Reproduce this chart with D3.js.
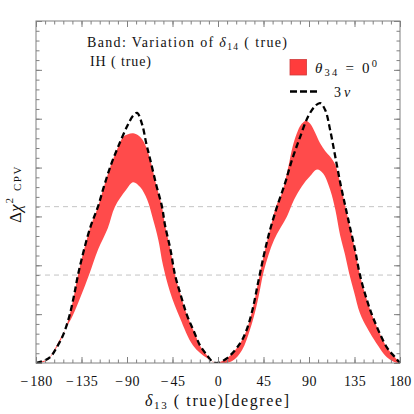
<!DOCTYPE html>
<html lang="en">
<head>
    <meta charset="UTF-8">
    <title>CPV band</title>

    <script src="https://d3js.org/d3.v7.min.js"></script>

    <style>
        body {
            margin: 0;
            background: #fff;
        }

        text {
            font-family: "Liberation Serif", "Times New Roman", "DejaVu Serif", serif;
            fill: #111;
        }
    </style>

    <script>

        // 3nu curve (dashed)
        const NU3_DELTA = [-180, -173, -166, -160, -153, -147, -142.4, -138.5, -132.5, -125.6, -118.7, -112.7, -105.8, -98.9, -90, -84, -80, -75, -71, -67, -61, -55.4, -52.4, -47, -42.5, -37, -30.7, -23.7, -17.8, -10.9, -5, -1, 9, 21.8, 28, 34, 39.6, 45.5, 51.4, 58.4, 66.3, 73.2, 81.1, 89, 96, 101, 106, 111, 116, 121, 126, 130.5, 135.5, 140.4, 147.4, 154.3, 167, 175, 180];
        const NU3_CHI2 = [0, 0.2, 0.6, 1.5, 2.9, 4.8, 6.9, 9.0, 11.6, 14.1, 16.0, 18.1, 20.3, 22.1, 24.2, 25.3, 25.6, 24.4, 22.5, 20.8, 18.2, 16.0, 14.1, 11.6, 9.0, 7.0, 4.9, 3.2, 1.8, 0.8, 0.1, 0, 0.5, 2.0, 3.3, 5.4, 8.2, 11.1, 13.6, 16.0, 18.4, 20.8, 23.1, 25.2, 26.3, 26.6, 25.9, 23.8, 21.1, 18.4, 16.0, 13.9, 11.6, 9.0, 6.4, 4.4, 1.6, 0.6, 0];

        // band, upper edge
        const BAND_HI_DELTA = [-180, -173, -166, -160, -153, -147, -142.4, -138.5, -132.5, -125.6, -118.7, -112.7, -105.8, -100, -94, -89, -84, -79, -75, -71, -67, -61, -55.4, -52.4, -47, -42.5, -37, -30.7, -23.7, -17.8, -10.9, -5, -1, 9, 21.8, 28, 34, 39.6, 45.5, 51.4, 58, 63.3, 69.2, 74.2, 79.1, 83, 87, 91, 96, 101, 106, 111, 116, 119, 121, 126, 130.5, 135.5, 140.4, 147.4, 154.3, 167, 175, 180];
        const BAND_HI_CHI2 = [0, 0.2, 0.6, 1.5, 2.9, 4.8, 6.9, 9.0, 11.6, 14.1, 16.0, 18.1, 20.3, 21.8, 23.1, 23.4, 23.5, 23.3, 22.9, 22.1, 20.8, 18.2, 16.0, 14.1, 11.6, 9.0, 7.0, 4.9, 3.2, 1.8, 0.8, 0.1, 0, 0.5, 2.0, 3.3, 5.4, 8.2, 11.1, 13.6, 16.2, 17.4, 19.9, 22.3, 23.8, 24.5, 24.8, 24.5, 23.6, 22.5, 21.7, 21.1, 20.3, 19.2, 18.4, 16.0, 13.9, 11.6, 9.0, 6.4, 4.4, 1.6, 0.6, 0];

        // band, lower edge
        const BAND_LO_DELTA = [-180, -170, -165, -157, -150, -143.4, -135, -127.6, -118.7, -109, -101.9, -91, -84, -77, -70, -64, -59, -54.4, -47.5, -37.6, -24.7, -10.9, -1, 14, 23.7, 31.6, 37.6, 41.5, 45.5, 55.4, 68.2, 75.2, 83, 91, 98, 104, 111, 116, 120.7, 125.6, 129.6, 134.5, 140.4, 147.4, 154.3, 167, 177, 180];
        const BAND_LO_CHI2 = [0, 0.2, 0.8, 2.3, 3.6, 4.9, 7.0, 9.0, 11.6, 13.8, 16.0, 17.7, 18.5, 18.0, 16.7, 14.6, 12.6, 10.0, 7.3, 4.6, 1.8, 0.5, 0, 0.2, 1.3, 3.4, 5.6, 7.5, 9.5, 12.6, 15.0, 16.7, 18.1, 19.1, 19.8, 19.4, 17.7, 15.7, 13.1, 11.1, 9.2, 7.3, 5.1, 3.6, 2.4, 0.6, 0, 0];

        const X_TICKS = [-180, -135, -90, -45, 0, 45, 90, 135, 180];
        const SIGMA_LINES = [9, 16];

        document.addEventListener("DOMContentLoaded", () => makeGraph());

        function makeGraph() {

            const margins = {top: 21, right: 14, bottom: 51, left: 36};
            const width = 414 - margins.left - margins.right;
            const height = 414 - margins.top - margins.bottom;
            const frameColor = "#808080";
            const red = "#ff4b4b";

            let svg = d3.select("svg")
                .attr("width", 414)
                .attr("height", 414);

            const g = svg.append("g")
                .attr("transform", "translate(" + margins.left + "," + margins.top + ")");

            const x = d3.scaleLinear().domain([-180, 180]).range([0, width]);
            const y = d3.scaleLinear().domain([0, 35]).range([height, 0]);

            svg.append("defs").append("clipPath").attr("id", "plot-clip")
                .append("rect").attr("width", width).attr("height", height);

            // 3 sigma / 4 sigma guide lines
            g.selectAll(".sigma")
                .data(SIGMA_LINES)
                .join("line")
                .attr("x1", 0)
                .attr("x2", width)
                .attr("y1", d => y(d))
                .attr("y2", d => y(d))
                .attr("stroke", "#c4c4c4")
                .attr("stroke-width", 1)
                .attr("stroke-dasharray", "5,4");

            const plot = g.append("g").attr("clip-path", "url(#plot-clip)");

            const hi = BAND_HI_DELTA.map((d, i) => [d, BAND_HI_CHI2[i]]);
            const lo = BAND_LO_DELTA.map((d, i) => [d, BAND_LO_CHI2[i]]);
            const nu3 = NU3_DELTA.map((d, i) => [d, NU3_CHI2[i]]);

            const line = d3.line()
                .x(d => x(d[0]))
                .y(d => y(d[1]))
                .curve(d3.curveCatmullRom.alpha(0.5));

            plot.append("path")
                .attr("d", line(hi) + line(lo.slice().reverse()).replace("M", "L") + "Z")
                .attr("fill", red)
                .attr("stroke", "none");

            plot.append("path")
                .attr("d", line(nu3))
                .attr("fill", "none")
                .attr("stroke", "#000")
                .attr("stroke-width", 2.3)
                .attr("stroke-dasharray", "6,3.5");

            // frame and ticks
            const minorX = d3.range(-180, 181, 9);
            const majorY = d3.range(0, 36, 5);
            const minorY = d3.range(0, 36, 1);

            function styleAxis(sel) {
                sel.select(".domain").remove();
                sel.selectAll("line").attr("stroke", frameColor);
            }

            g.append("g").attr("transform", "translate(0," + height + ")")
                .call(d3.axisBottom(x).tickValues(minorX).tickSize(-3.5).tickFormat(""))
                .call(styleAxis);
            g.append("g").attr("transform", "translate(0," + height + ")")
                .call(d3.axisBottom(x).tickValues(X_TICKS).tickSize(-6).tickPadding(13)
                    .tickFormat(d => d < 0 ? "\u2212\u200a" + Math.abs(d) : d))
                .call(styleAxis)
                .selectAll("text")
                .attr("font-size", 14)
                .attr("letter-spacing", "0.4px")
                .attr("fill", "#111")
                .style("font-family", "'Liberation Serif', serif");

            g.append("g")
                .call(d3.axisTop(x).tickValues(minorX).tickSize(-3.5).tickFormat(""))
                .call(styleAxis);
            g.append("g")
                .call(d3.axisTop(x).tickValues(X_TICKS).tickSize(-6).tickFormat(""))
                .call(styleAxis);

            g.append("g")
                .call(d3.axisLeft(y).tickValues(minorY).tickSize(-3.5).tickFormat(""))
                .call(styleAxis);
            g.append("g")
                .call(d3.axisLeft(y).tickValues(majorY).tickSize(-6).tickFormat(""))
                .call(styleAxis);
            g.append("g").attr("transform", "translate(" + width + ",0)")
                .call(d3.axisRight(y).tickValues(minorY).tickSize(-3.5).tickFormat(""))
                .call(styleAxis);
            g.append("g").attr("transform", "translate(" + width + ",0)")
                .call(d3.axisRight(y).tickValues(majorY).tickSize(-6).tickFormat(""))
                .call(styleAxis);

            g.append("rect")
                .attr("width", width)
                .attr("height", height)
                .attr("fill", "none")
                .attr("stroke", frameColor)
                .attr("stroke-width", 1);

            // annotations
            const title = svg.append("text")
                .attr("x", 87).attr("y", 47)
                .attr("font-size", 14)
                .attr("textLength", 200)
                .attr("lengthAdjust", "spacing");
            title.append("tspan").text("Band: Variation of ");
            title.append("tspan").attr("font-style", "italic").text("\u03b4");
            title.append("tspan").attr("font-size", 9.5).attr("dy", 3).text("14");
            title.append("tspan").attr("dy", -3).text(" ( true)");

            svg.append("text")
                .attr("x", 90).attr("y", 66)
                .attr("font-size", 14)
                .attr("textLength", 61)
                .attr("lengthAdjust", "spacing")
                .text("IH ( true)");

            // legend
            svg.append("rect")
                .attr("x", 290).attr("y", 59.5)
                .attr("width", 16.5).attr("height", 15.5)
                .attr("fill", "#ff3c3c")
                .attr("stroke", "#d03a3a")
                .attr("stroke-width", 0.8);

            const leg1 = svg.append("text")
                .attr("x", 315).attr("y", 73)
                .attr("font-size", 15)
                .attr("textLength", 62)
                .attr("lengthAdjust", "spacing");
            leg1.append("tspan").attr("font-style", "italic").text("\u03b8");
            leg1.append("tspan").attr("font-size", 10.5).attr("dy", 3).text("34");
            leg1.append("tspan").attr("dy", -3).text(" = 0");
            leg1.append("tspan").attr("font-size", 10.5).attr("dy", -6).text("0");

            svg.append("line")
                .attr("x1", 290).attr("x2", 318)
                .attr("y1", 91.5).attr("y2", 91.5)
                .attr("stroke", "#000")
                .attr("stroke-width", 2.6)
                .attr("stroke-dasharray", "7,3");

            const leg2 = svg.append("text")
                .attr("x", 334).attr("y", 97)
                .attr("font-size", 14);
            leg2.append("tspan").text("3");
            leg2.append("tspan").attr("font-style", "italic").attr("dx", 3).text("\u03bd");

            // axis titles
            const xt = svg.append("text")
                .attr("x", 145).attr("y", 406)
                .attr("font-size", 16)
                .attr("textLength", 144)
                .attr("lengthAdjust", "spacing");
            xt.append("tspan").attr("font-style", "italic").text("\u03b4");
            xt.append("tspan").attr("font-size", 11).attr("dy", 3).text("13");
            xt.append("tspan").attr("dy", -3).text(" ( true)[degree]");

            const yt = svg.append("text")
                .attr("transform", "translate(21,223) rotate(-90)")
                .attr("font-size", 17);
            yt.append("tspan").text("\u0394");
            yt.append("tspan").attr("font-style", "italic").text("\u03c7");
            yt.append("tspan").attr("font-size", 11).attr("dy", -8).attr("dx", 1).text("2");
            yt.append("tspan").attr("font-size", 11).attr("dy", 8).attr("dx", 7)
                .attr("letter-spacing", "1.5px").text("CPV");
        }

    </script>

</head>
<body>
<svg id="graph"></svg>
</body>
</html>
